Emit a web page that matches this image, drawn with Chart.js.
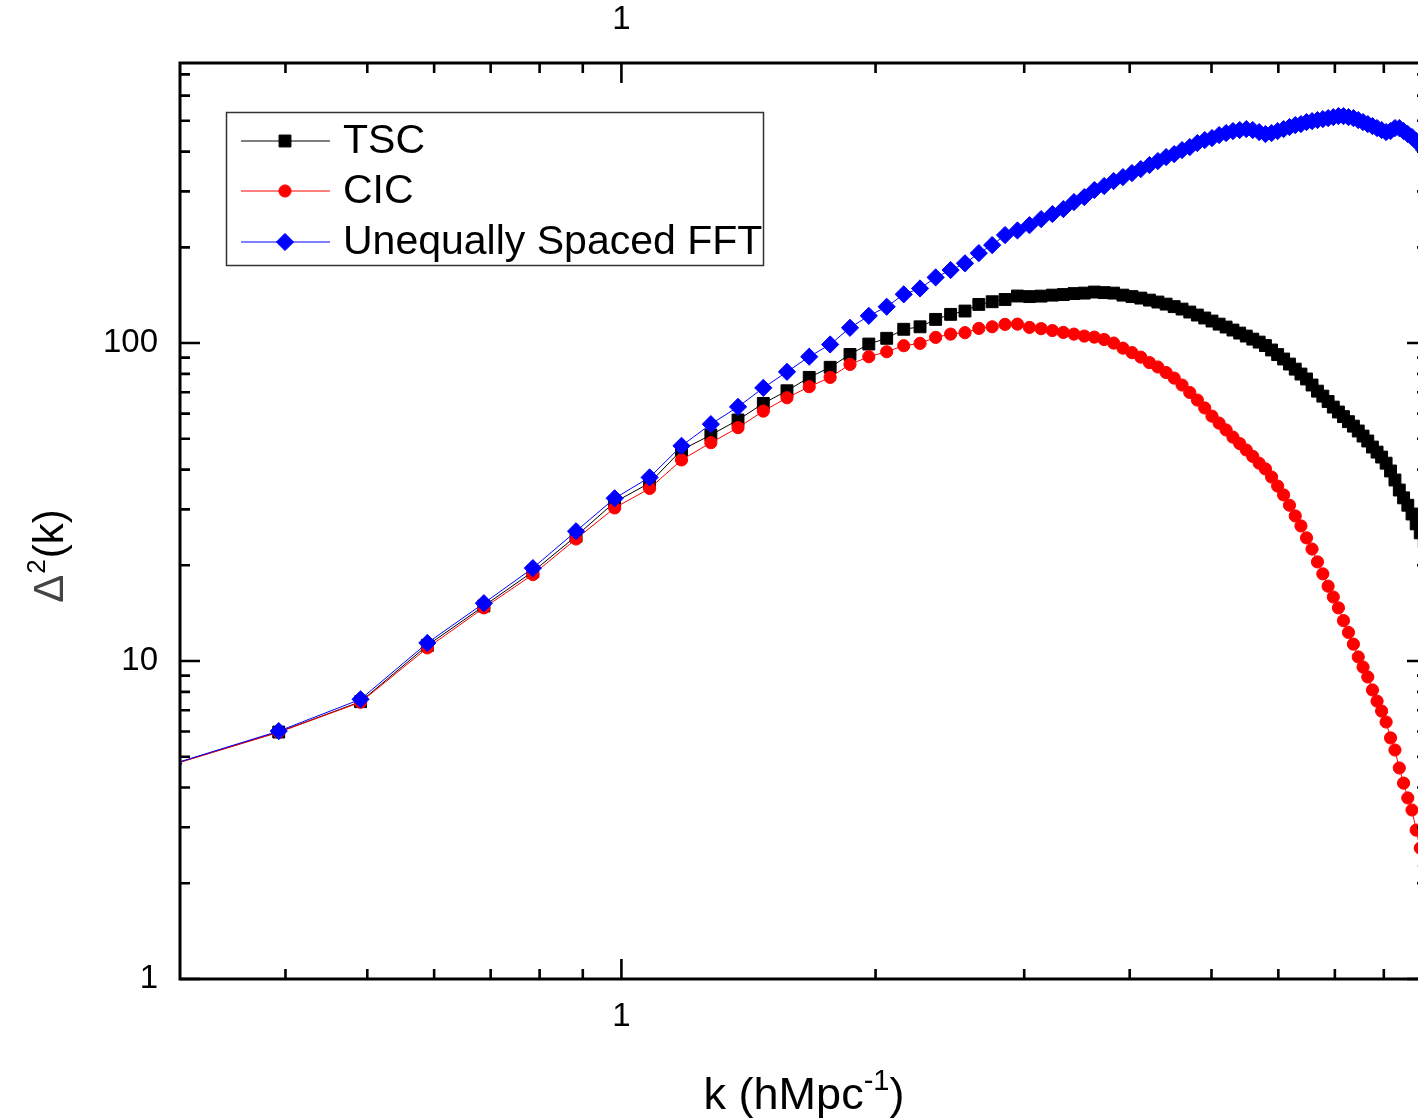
<!DOCTYPE html>
<html>
<head>
<meta charset="utf-8">
<script src="https://cdn.jsdelivr.net/npm/chart.js@4.4.1/dist/chart.umd.min.js"></script>
<style>
html,body{margin:0;padding:0;overflow:hidden;background:#fff;width:1418px;height:1120px}
canvas{display:block}
</style>
</head>
<body>
<canvas id="c" width="1440" height="1120" style="width:1440px;height:1120px"></canvas>
<script>
// k = n * 2π/64, n = 3..91
const kValues = [0.2945,0.3927,0.4909,0.5890,0.6872,0.7854,0.8836,0.9817,1.0799,1.1781,
1.2763,1.3744,1.4726,1.5708,1.6690,1.7671,1.8653,1.9635,2.0617,2.1598,
2.2580,2.3562,2.4544,2.5525,2.6507,2.7489,2.8471,2.9452,3.0434,3.1416,
3.2398,3.3379,3.4361,3.5343,3.6325,3.7306,3.8288,3.9270,4.0252,4.1233,
4.2215,4.3197,4.4179,4.5160,4.6142,4.7124,4.8106,4.9087,5.0069,5.1051,
5.2033,5.3014,5.3996,5.4978,5.5960,5.6941,5.7923,5.8905,5.9887,6.0868,
6.1850,6.2832,6.3814,6.4795,6.5777,6.6759,6.7741,6.8722,6.9704,7.0686,
7.1668,7.2649,7.3631,7.4613,7.5595,7.6576,7.7558,7.8540,7.9522,8.0503,
8.1485,8.2467,8.3449,8.4430,8.5412,8.6394,8.7376,8.8357,8.9339];

const tscValues = [4.74,5.98,7.45,11.2,14.9,19.1,24.7,31.6,36.3,46.1,
51.4,57.3,64.6,70.8,78.0,83.9,92.1,99.3,103.5,110.5,
112.5,118.7,123.1,126.1,132.3,134.9,137.1,140.6,140.0,140.5,
141.5,142.1,143.1,143.6,144.7,144.1,143.6,141.5,140.0,138.5,
136.5,134.6,132.6,130.2,127.9,125.2,122.5,119.9,117.3,114.7,
112.3,109.9,107.5,105.2,102.9,100.7,98.2,95.1,92.0,89.1,
85.9,82.8,79.9,77.1,73.8,70.6,68.1,65.5,62.9,60.7,
58.7,56.6,54.8,52.9,51.0,49.2,47.1,45.4,43.8,41.9,
39.6,37.1,34.5,32.6,30.9,29.0,27.0,25.3,23.7];

const cicValues = [4.73,5.97,7.42,11.0,14.7,18.7,24.2,30.3,34.9,42.9,
48.6,54.2,61.1,67.3,72.9,78.0,85.7,90.6,93.9,98.1,
99.8,104.2,106.7,107.8,111.2,112.5,114.5,114.7,112.0,111.0,
109.5,108.0,106.7,105.2,104.4,102.6,100.0,96.4,93.3,90.3,
86.8,84.1,80.8,77.6,73.8,69.9,66.2,62.5,58.9,56.0,
53.3,50.6,48.3,46.1,44.0,41.9,40.2,37.9,35.5,33.3,
30.9,28.6,26.6,24.4,22.5,20.5,18.8,17.2,15.9,14.7,
13.4,12.3,11.3,10.3,9.57,8.91,8.11,7.48,6.96,6.43,
5.73,5.25,4.61,4.13,3.71,3.40,2.94,2.58,2.27];

const usfftValues = [4.75,6.02,7.58,11.4,15.2,19.6,25.6,32.5,37.8,47.5,
55.6,63.0,72.3,81.2,90.6,99.0,111.7,121.8,130.1,142.3,
148.5,160.9,169.7,178.2,191.8,203.3,218.6,226.0,234.8,245.4,
254.5,263.9,277.6,287.8,302.9,311.8,323.3,332.7,342.5,352.6,
362.9,373.6,384.6,392.9,404.5,413.4,425.6,434.9,441.3,451.0,
457.6,464.3,467.7,471.0,467.7,460.9,454.3,457.6,464.3,471.0,
477.8,484.8,488.3,495.5,499.0,502.7,506.3,510.0,513.6,517.4,
517.4,513.6,510.0,502.7,495.5,488.3,481.3,474.4,467.7,460.9,
464.3,474.4,474.4,464.3,454.3,444.5,431.9,419.5,404.5];

const seriesNames = ['TSC', 'CIC', 'Unequally Spaced FFT'];
const xTickLabels = [1];
const yTickLabels = [1, 10, 100];
const xMinorTicks = [0.4,0.5,0.6,0.7,0.8,0.9,2,3,4,5,6,7,8];
const yMinorTicks = [2,3,4,5,6,7,8,9,20,30,40,50,60,70,80,90,200,300,400,500,600,700];
const xRange = [0.3, 9];
const yRange = [1, 760];

const FONT = '"Liberation Sans", Arial, sans-serif';
const toXY = vals => kValues.map((k, i) => ({x: k, y: vals[i]}));

const styles = [
  {color: '#000000', pointStyle: 'rect', radius: 8.4},
  {color: '#ff0000', pointStyle: 'circle', radius: 6.1},
  {color: '#0000ff', pointStyle: 'rectRot', radius: 8.6}
];

const decorPlugin = {
  id: 'decor',
  afterDraw(chart) {
    const {ctx, chartArea: a, scales} = chart;
    const xs = scales.x, ys = scales.y;
    ctx.save();
    ctx.strokeStyle = '#000';
    ctx.lineCap = 'butt';
    ctx.lineWidth = 2.6;
    const xTick = (v, len) => {
      const p = xs.getPixelForValue(v);
      ctx.beginPath();
      ctx.moveTo(p, a.bottom); ctx.lineTo(p, a.bottom - len);
      ctx.moveTo(p, a.top); ctx.lineTo(p, a.top + len);
      ctx.stroke();
    };
    const yTick = (v, len) => {
      const p = ys.getPixelForValue(v);
      ctx.beginPath();
      ctx.moveTo(a.left, p); ctx.lineTo(a.left + len, p);
      ctx.moveTo(a.right, p); ctx.lineTo(a.right - len, p);
      ctx.stroke();
    };
    xMinorTicks.forEach(v => xTick(v, 10));
    xTickLabels.forEach(v => xTick(v, 20));
    yMinorTicks.forEach(v => yTick(v, 10));
    yTickLabels.forEach(v => yTick(v, 20));
    ctx.lineWidth = 3;
    ctx.strokeRect(a.left, a.top, a.right - a.left, a.bottom - a.top);

    // legend
    ctx.lineWidth = 1.5;
    ctx.strokeStyle = '#333';
    ctx.strokeRect(226.5, 112.5, 537, 153);
    const rows = [141, 191, 242];
    ctx.font = '41px ' + FONT;
    ctx.textBaseline = 'middle';
    ctx.textAlign = 'left';
    rows.forEach((y, i) => {
      const s = styles[i];
      ctx.strokeStyle = s.color;
      ctx.lineWidth = 1;
      ctx.beginPath(); ctx.moveTo(241, y); ctx.lineTo(330, y); ctx.stroke();
      ctx.fillStyle = s.color;
      Chart.helpers.drawPoint(ctx, {pointStyle: s.pointStyle, radius: s.radius, borderWidth: 1, rotation: 0}, 285, y);
      ctx.fillStyle = '#000';
      ctx.fillText(seriesNames[i], 343, y + 1);
    });

    // x axis title: k (hMpc^-1)
    ctx.fillStyle = '#000';
    ctx.textBaseline = 'alphabetic';
    const big = '45px ' + FONT, small = '29px ' + FONT;
    ctx.font = big; const w1 = ctx.measureText('k (hMpc').width; const w3 = ctx.measureText(')').width;
    ctx.font = small; const w2 = ctx.measureText('-1').width;
    let x0 = 804 - (w1 + w2 + w3) / 2; const base = 1109;
    ctx.font = big; ctx.fillText('k (hMpc', x0, base);
    ctx.font = small; ctx.fillText('-1', x0 + w1, base - 19);
    ctx.font = big; ctx.fillText(')', x0 + w1 + w2, base);

    // y axis title: Δ^2(k)
    ctx.save();
    ctx.translate(63, 557);
    ctx.rotate(-Math.PI / 2);
    const yb = '42px ' + FONT, ys2 = '26px ' + FONT;
    ctx.font = yb; const d1 = ctx.measureText('\u0394').width; const d3 = ctx.measureText('(k)').width;
    ctx.font = ys2; const d2 = ctx.measureText('2').width;
    let t0 = -(d1 + d2 + d3) / 2;
    ctx.font = yb; ctx.fillStyle = '#444'; ctx.fillText('\u0394', t0, 0);
    ctx.fillStyle = '#000';
    ctx.font = ys2; ctx.fillText('2', t0 + d1 + 1, -18);
    ctx.font = yb; ctx.fillText('(k)', t0 + d1 + d2 + 2, 0);
    ctx.restore();

    ctx.restore();
  }
};

const tickFont = {family: FONT, size: 33};

new Chart(document.getElementById('c'), {
  type: 'scatter',
  data: {
    datasets: [
      {label: seriesNames[0], data: toXY(tscValues), order: 3},
      {label: seriesNames[1], data: toXY(cicValues), order: 2},
      {label: seriesNames[2], data: toXY(usfftValues), order: 1}
    ].map((d, i) => Object.assign(d, {
      showLine: true,
      borderColor: styles[i].color,
      backgroundColor: styles[i].color,
      borderWidth: 1,
      pointStyle: styles[i].pointStyle,
      pointRadius: styles[i].radius,
      pointBorderWidth: 1,
      pointBorderColor: styles[i].color,
      pointBackgroundColor: styles[i].color,
      pointHoverRadius: styles[i].radius
    }))
  },
  options: {
    responsive: false,
    animation: false,
    devicePixelRatio: 1,
    layout: {padding: {left: 0, right: 13, top: 0, bottom: 0}},
    plugins: {legend: {display: false}, tooltip: {enabled: false}},
    scales: {
      x: {
        type: 'logarithmic', position: 'bottom', min: xRange[0], max: xRange[1], bounds: 'data',
        grid: {display: false, drawTicks: false}, border: {display: false},
        ticks: {font: tickFont, color: '#000', padding: 18, maxRotation: 0, autoSkip: false,
                callback: v => String(v)},
        afterBuildTicks: s => { s.ticks = xTickLabels.map(v => ({value: v})); },
        afterFit: s => { s.height = 141; }
      },
      x2: {
        type: 'logarithmic', position: 'top', min: xRange[0], max: xRange[1], bounds: 'data',
        grid: {display: false, drawTicks: false}, border: {display: false},
        ticks: {font: tickFont, color: '#000', padding: 23, maxRotation: 0, autoSkip: false,
                callback: v => String(v)},
        afterBuildTicks: s => { s.ticks = xTickLabels.map(v => ({value: v})); },
        afterFit: s => { s.height = 63; }
      },
      y: {
        type: 'logarithmic', position: 'left', min: yRange[0], max: yRange[1], bounds: 'data',
        grid: {display: false, drawTicks: false}, border: {display: false},
        ticks: {font: tickFont, color: '#000', padding: 22, autoSkip: false,
                callback: v => String(v)},
        afterBuildTicks: s => { s.ticks = yTickLabels.map(v => ({value: v})); },
        afterFit: s => { s.width = 180; }
      }
    }
  },
  plugins: [decorPlugin]
});
</script>
</body>
</html>
